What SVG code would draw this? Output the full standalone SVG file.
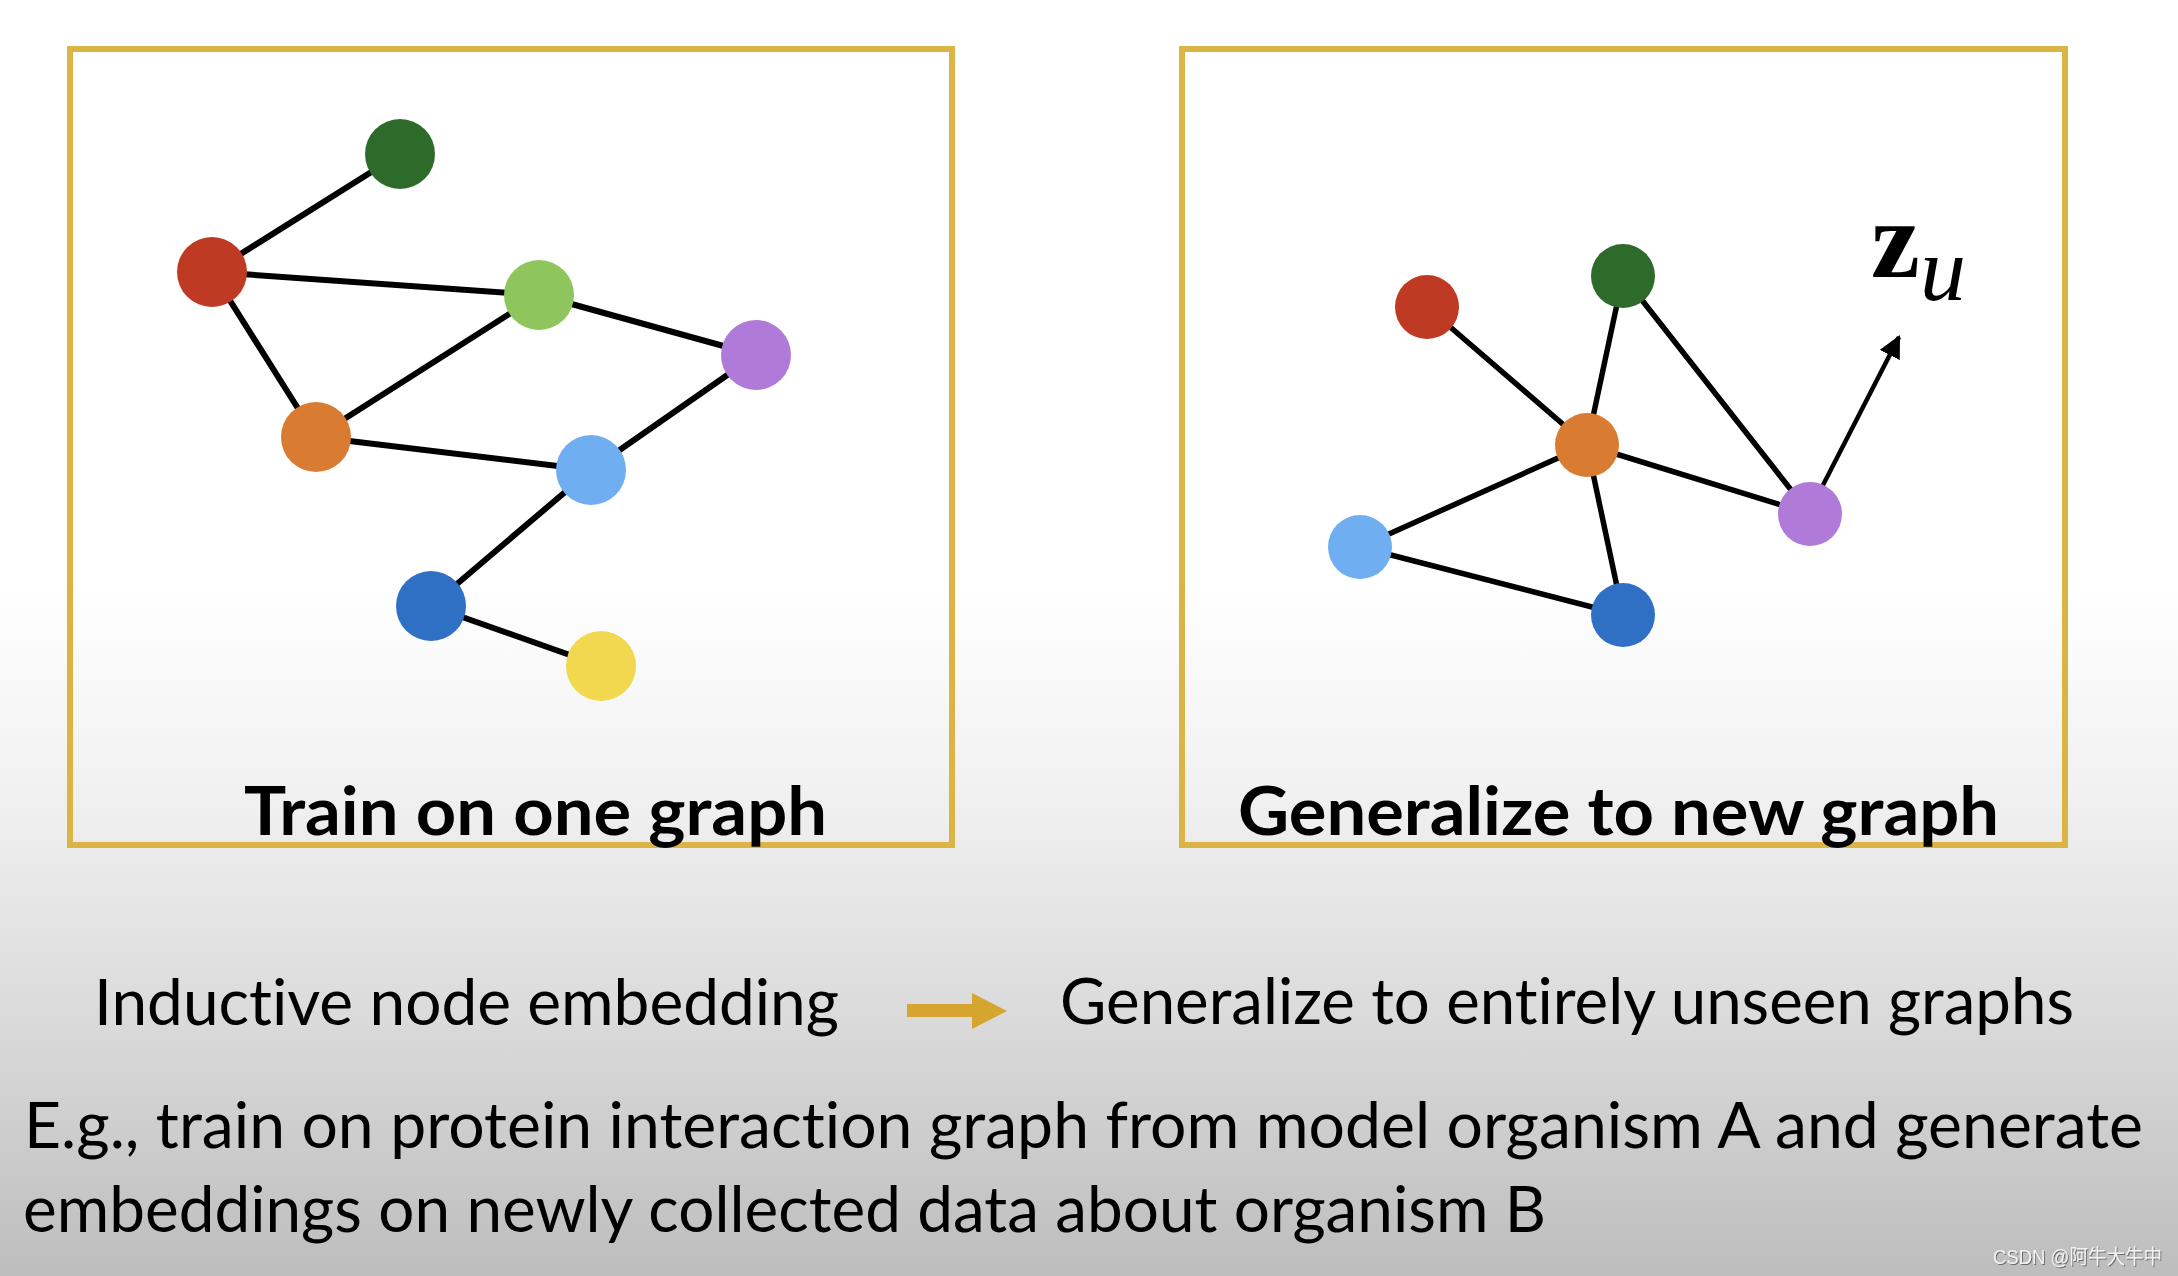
<svg xmlns="http://www.w3.org/2000/svg" width="2178" height="1276" viewBox="0 0 2178 1276">
<style>
.box{fill:none;stroke:#dcb445;stroke-width:6}
.edge{stroke:#000;stroke-width:6;stroke-linecap:round}
.edge2{stroke:#000;stroke-width:5.5;stroke-linecap:round}
text{font-variant-ligatures:none;font-feature-settings:"liga" 0,"dlig" 0}
.title{font-family:Lato,"Open Sans",sans-serif;font-weight:700;font-size:67px;fill:#000}
.body{font-family:Lato,"Open Sans",sans-serif;font-weight:400;font-size:64px;fill:#000}
.dg{fill:#2e6b2a}.rd{fill:#bf3a22}.lg{fill:#8ec55c}.pu{fill:#b07ad9}
.or{fill:#d97b30}.lb{fill:#70aef2}.bl{fill:#2f6fc4}.ye{fill:#f1d84f}
</style>
<defs>
<linearGradient id="bg" gradientUnits="userSpaceOnUse" x1="0" y1="0" x2="0" y2="1276">
<stop offset="0" stop-color="#ffffff"/>
<stop offset="0.46" stop-color="#ffffff"/>
<stop offset="0.62" stop-color="#f1f1f1"/>
<stop offset="0.8" stop-color="#dadada"/>
<stop offset="1" stop-color="#bdbdbd"/>
</linearGradient>
<marker id="ah" viewBox="0 0 10 10" refX="9" refY="5" markerWidth="5" markerHeight="5" orient="auto" markerUnits="strokeWidth">
<path d="M0,0 L10,5 L0,10 z" fill="#000"/>
</marker>
<filter id="sh" x="-5%" y="-20%" width="110%" height="140%">
<feDropShadow dx="1" dy="1" stdDeviation="0.6" flood-color="#555" flood-opacity="0.8"/>
</filter>
</defs>
<rect x="0" y="0" width="2178" height="1276" fill="url(#bg)"/>

<g id="panel-left">
<rect class="box" x="70" y="49" width="882" height="796"/>
</g>
<g id="panel-right">
<rect class="box" x="1182" y="49" width="883" height="796"/>
</g>

<g id="connectors">
<line class="edge" x1="212" y1="272" x2="400" y2="154"/>
<line class="edge" x1="212" y1="272" x2="539" y2="295"/>
<line class="edge" x1="212" y1="272" x2="316" y2="437"/>
<line class="edge" x1="316" y1="437" x2="539" y2="295"/>
<line class="edge" x1="539" y1="295" x2="756" y2="355"/>
<line class="edge" x1="316" y1="437" x2="591" y2="470"/>
<line class="edge" x1="591" y1="470" x2="756" y2="355"/>
<line class="edge" x1="591" y1="470" x2="431" y2="606"/>
<line class="edge" x1="431" y1="606" x2="601" y2="666"/>
<line class="edge2" x1="1427" y1="307" x2="1587" y2="445"/>
<line class="edge2" x1="1623" y1="276" x2="1587" y2="445"/>
<line class="edge2" x1="1623" y1="276" x2="1810" y2="514"/>
<line class="edge2" x1="1587" y1="445" x2="1810" y2="514"/>
<line class="edge2" x1="1587" y1="445" x2="1360" y2="547"/>
<line class="edge2" x1="1587" y1="445" x2="1623" y2="615"/>
<line class="edge2" x1="1360" y1="547" x2="1623" y2="615"/>
<line x1="1822" y1="487" x2="1899" y2="337" stroke="#000" stroke-width="4.5" marker-end="url(#ah)"/>
</g>

<g id="L-darkgreen"><circle class="dg" cx="400" cy="154" r="35"/></g>
<g id="L-red"><circle class="rd" cx="212" cy="272" r="35"/></g>
<g id="L-lightgreen"><circle class="lg" cx="539" cy="295" r="35"/></g>
<g id="L-purple"><circle class="pu" cx="756" cy="355" r="35"/></g>
<g id="L-orange"><circle class="or" cx="316" cy="437" r="35"/></g>
<g id="L-lightblue"><circle class="lb" cx="591" cy="470" r="35"/></g>
<g id="L-blue"><circle class="bl" cx="431" cy="606" r="35"/></g>
<g id="L-yellow"><circle class="ye" cx="601" cy="666" r="35"/></g>

<g id="R-red"><circle class="rd" cx="1427" cy="307" r="32"/></g>
<g id="R-darkgreen"><circle class="dg" cx="1623" cy="276" r="32"/></g>
<g id="R-orange"><circle class="or" cx="1587" cy="445" r="32"/></g>
<g id="R-purple"><circle class="pu" cx="1810" cy="514" r="32"/></g>
<g id="R-lightblue"><circle class="lb" cx="1360" cy="547" r="32"/></g>
<g id="R-blue"><circle class="bl" cx="1623" cy="615" r="32"/></g>

<g id="label-zu">
<text x="1871" y="277" font-family="'Liberation Serif',serif" font-weight="700" font-size="110">z</text>
<text x="1920" y="300" font-family="'Liberation Serif',serif" font-style="italic" font-size="92">u</text>
</g>

<g id="titles">
<text class="title" x="244" y="835" textLength="583" lengthAdjust="spacingAndGlyphs">Train on one graph</text>
<text class="title" x="1238" y="835" textLength="761" lengthAdjust="spacingAndGlyphs">Generalize to new graph</text>
</g>

<g id="gold-arrow">
<path d="M907,1004 L972,1004 L972,993 L1007,1011 L972,1029 L972,1017 L907,1017 z" fill="#d6a530"/>
</g>

<g id="captions">
<text class="body" x="94" y="1025" textLength="745" lengthAdjust="spacingAndGlyphs">Inductive node embedding</text>
<text class="body" x="1060" y="1024" textLength="1014" lengthAdjust="spacingAndGlyphs">Generalize to entirely unseen graphs</text>
<text class="body" x="24" y="1148" textLength="2119" lengthAdjust="spacingAndGlyphs">E.g., train on protein interaction graph from model organism A and generate</text>
<text class="body" x="23" y="1232" textLength="1523" lengthAdjust="spacingAndGlyphs">embeddings on newly collected data about organism B</text>
</g>

<g id="watermark">
<text x="1993" y="1264" textLength="169" lengthAdjust="spacingAndGlyphs" font-family="'Liberation Sans','Noto Sans CJK SC',sans-serif" font-size="20" fill="#f2f2f2" filter="url(#sh)">CSDN @阿牛大牛中</text>
</g>
</svg>
